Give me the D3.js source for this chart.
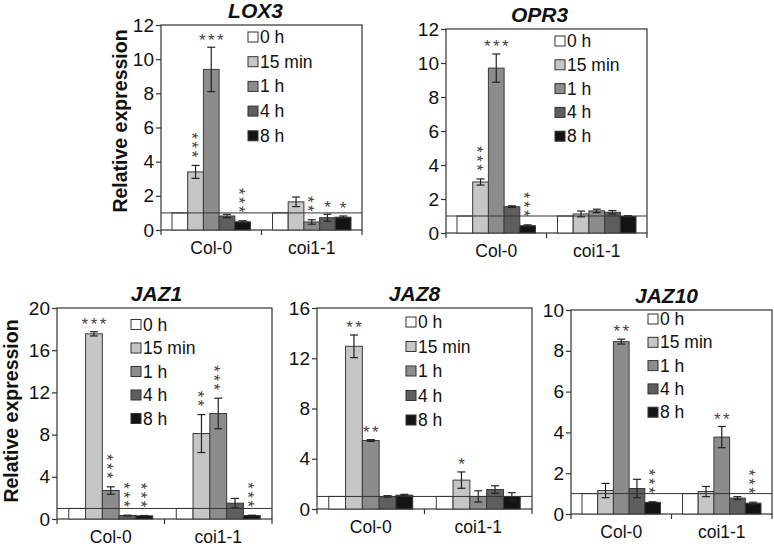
<!DOCTYPE html>
<html><head><meta charset="utf-8">
<script src="https://cdn.jsdelivr.net/npm/d3@7/dist/d3.min.js"></script>
<style>
html,body{margin:0;padding:0;background:#fff;}
svg{display:block;font-family:"Liberation Sans",Arial,sans-serif;}
</style></head>
<body>
<svg id="chart" width="774" height="546"></svg>
<script>
// ---------- data ----------
const categories = ["Col-0", "coi1-1"];
const timepoints = ["0 h", "15 min", "1 h", "4 h", "8 h"];
const genes = ["LOX3", "OPR3", "JAZ1", "JAZ8", "JAZ10"];

const lox3Values = [[1, 3.4, 9.4, 0.82, 0.48], [1, 1.65, 0.47, 0.72, 0.75]];
const lox3Errors = [[0, 0.38, 1.3, 0.1, 0.06], [0, 0.28, 0.13, 0.2, 0.07]];
const lox3Stars  = [["", "3v", "3h", "", "3v"], ["", "", "2v", "1h", "1h"]];

const opr3Values = [[1, 3.0, 9.7, 1.55, 0.43], [1, 1.12, 1.3, 1.22, 0.97]];
const opr3Errors = [[0, 0.18, 0.83, 0.05, 0.05], [0, 0.17, 0.1, 0.1, 0.05]];
const opr3Stars  = [["", "3v", "3h", "", "3v"], ["", "", "", "", ""]];

const jaz1Values = [[1, 17.55, 2.7, 0.33, 0.3], [1, 8.1, 10.0, 1.5, 0.33]];
const jaz1Errors = [[0, 0.2, 0.35, 0.03, 0.03], [0, 1.8, 1.45, 0.45, 0.03]];
const jaz1Stars  = [["", "3h", "3v", "3v", "3v"], ["", "2v", "3v", "", "3v"]];

const jaz8Values = [[1, 12.95, 5.45, 1.0, 1.1], [1, 2.3, 1.0, 1.55, 1.0]];
const jaz8Errors = [[0, 0.9, 0.07, 0.06, 0.07], [0, 0.65, 0.45, 0.3, 0.3]];
const jaz8Stars  = [["", "2h", "2h", "", ""], ["", "1h", "", "", ""]];

const jaz10Values = [[1, 1.15, 8.45, 1.25, 0.57], [1, 1.1, 3.77, 0.78, 0.53]];
const jaz10Errors = [[0, 0.35, 0.12, 0.45, 0.03], [0, 0.25, 0.52, 0.07, 0.05]];
const jaz10Stars  = [["", "", "2h", "", "3v"], ["", "", "2h", "", "3v"]];

const yMaxima = [12, 12, 20, 16, 10];
const yTickSteps = [2, 2, 4, 4, 2];
const referenceLevel = 1;

// ---------- styles / layout ----------
const fills = ["#ffffff", "#c6c6c6", "#8c8c8c", "#5e5e5e", "#141414"];
const layouts = [
  {x0:161, x1:362, y0:25,  y1:230, ylab:true,  ylabX:127, ylabY:121, titleDx:-6, legX:248, legY:37,  legDy:24.7},
  {x0:446, x1:647, y0:29,  y1:233, ylab:false, titleDx:-7, legX:555, legY:41, legDy:23.8},
  {x0:57,  x1:272, y0:308, y1:519, ylab:true,  ylabX:18, ylabY:411, titleDx:-8, legX:131, legY:324.5, legDy:23.5},
  {x0:317, x1:532, y0:308, y1:509, ylab:false, titleDx:-10, legX:406, legY:322, legDy:24.5},
  {x0:571, x1:772, y0:310, y1:514, ylab:false, titleDx:-5, legX:648, legY:319, legDy:23.3}
];
const panelData = [
  [lox3Values, lox3Errors, lox3Stars],
  [opr3Values, opr3Errors, opr3Stars],
  [jaz1Values, jaz1Errors, jaz1Stars],
  [jaz8Values, jaz8Errors, jaz8Stars],
  [jaz10Values, jaz10Errors, jaz10Stars]
];

const svg = d3.select("#chart");
const frameColor = "#333";
const starSize = 17;

genes.forEach((gene, gi) => {
  const L = layouts[gi];
  const [vals, errs, stars] = panelData[gi];
  const g = svg.append("g");
  const y = d3.scaleLinear().domain([0, yMaxima[gi]]).range([L.y1, L.y0]);
  const xCat = d3.scaleBand().domain(categories).range([L.x0, L.x1]).paddingInner(0).paddingOuter(0);
  const xTime = d3.scaleBand().domain(timepoints).range([0, xCat.bandwidth()]).paddingInner(0).paddingOuter(0.7);

  // frame
  g.append("rect").attr("x", L.x0).attr("y", L.y0).attr("width", L.x1 - L.x0).attr("height", L.y1 - L.y0)
    .attr("fill", "none").attr("stroke", frameColor).attr("stroke-width", 1.2);

  // y axis
  const ticks = d3.range(0, yMaxima[gi] + 0.001, yTickSteps[gi]);
  const yAxis = g.append("g").attr("transform", `translate(${L.x0},0)`)
    .call(d3.axisLeft(y).tickValues(ticks).tickSize(5).tickPadding(2).tickFormat(d3.format("d")));
  yAxis.select(".domain").remove();
  yAxis.selectAll("line").attr("stroke", frameColor).attr("stroke-width", 1.2);
  yAxis.selectAll("text").attr("font-size", 19).attr("fill", "#111").attr("font-family", "Liberation Sans, Arial, sans-serif");

  // x axis ticks at category boundaries
  const bounds = [L.x0, xCat(categories[1]), L.x1];
  g.selectAll(".xt").data(bounds).enter().append("line")
    .attr("x1", d => d).attr("x2", d => d).attr("y1", L.y1).attr("y2", L.y1 + 5)
    .attr("stroke", frameColor).attr("stroke-width", 1.2);
  g.selectAll(".xl").data(categories).enter().append("text")
    .attr("x", d => xCat(d) + xCat.bandwidth() / 2).attr("y", L.y1 + 24)
    .attr("text-anchor", "middle").attr("font-size", 17.5).attr("fill", "#111").text(d => d);

  // bars
  categories.forEach((cat, ci) => {
    timepoints.forEach((tp, ti) => {
      const v = vals[ci][ti], e = errs[ci][ti];
      const bx = xCat(cat) + xTime(tp);
      const bw = xTime.bandwidth();
      g.append("rect").attr("x", bx).attr("y", y(v)).attr("width", bw).attr("height", y(0) - y(v))
        .attr("fill", fills[ti]).attr("stroke", "#3a3a3a").attr("stroke-width", 1);
      const cx = bx + bw / 2;
      if (e > 0) {
        const eg = g.append("g").attr("stroke", "#222").attr("stroke-width", 1.2);
        eg.append("line").attr("x1", cx).attr("x2", cx).attr("y1", y(v + e)).attr("y2", y(v - e));
        eg.append("line").attr("x1", cx - 4).attr("x2", cx + 4).attr("y1", y(v + e)).attr("y2", y(v + e));
        eg.append("line").attr("x1", cx - 4).attr("x2", cx + 4).attr("y1", y(v - e)).attr("y2", y(v - e));
      }
      const s = stars[ci][ti];
      if (s) {
        const n = +s[0], dir = s[1];
        const bottomStar = y(v + e) - 11.5; // centre of the lowest / only star row
        if (dir === "h") {
          g.append("text").attr("x", cx + 1.2).attr("y", bottomStar + 9.8).attr("text-anchor", "middle")
            .attr("font-size", starSize).attr("fill", "#444").attr("letter-spacing", 2.4)
            .text("*".repeat(n));
        } else {
          // one text element, written downward (rotated), glyph centres on x = cx
          const midY = bottomStar - (n - 1) * 9 / 2;
          g.append("text")
            .attr("transform", `translate(${cx},${midY}) rotate(90)`)
            .attr("x", 1.2).attr("y", 9.8).attr("text-anchor", "middle")
            .attr("font-size", starSize).attr("fill", "#444").attr("letter-spacing", 2.4)
            .text("*".repeat(n));
        }
      }
    });
  });

  // reference line at 1
  g.append("line").attr("x1", L.x0).attr("x2", L.x1).attr("y1", y(referenceLevel)).attr("y2", y(referenceLevel))
    .attr("stroke", "#333").attr("stroke-width", 1);

  // legend
  timepoints.forEach((tp, ti) => {
    const ly = L.legY + ti * L.legDy;
    g.append("rect").attr("x", L.legX).attr("y", ly - 5).attr("width", 10).attr("height", 10)
      .attr("fill", fills[ti]).attr("stroke", "#333").attr("stroke-width", 1);
    g.append("text").attr("x", L.legX + 12).attr("y", ly + 6).attr("font-size", 17.5).attr("fill", "#111").text(tp);
  });

  // title
  g.append("text").attr("x", (L.x0 + L.x1) / 2 + L.titleDx).attr("y", L.y0 - 7)
    .attr("text-anchor", "middle").attr("font-size", 21).attr("font-weight", "bold").attr("font-style", "italic")
    .attr("fill", "#111").text(gene);

  // y label
  if (L.ylab) {
    g.append("text").attr("transform", `translate(${L.ylabX},${L.ylabY}) rotate(-90)`)
      .attr("text-anchor", "middle").attr("font-size", 19.5).attr("font-weight", "bold").attr("fill", "#111")
      .text("Relative expression");
  }
});
</script>
</body></html>
